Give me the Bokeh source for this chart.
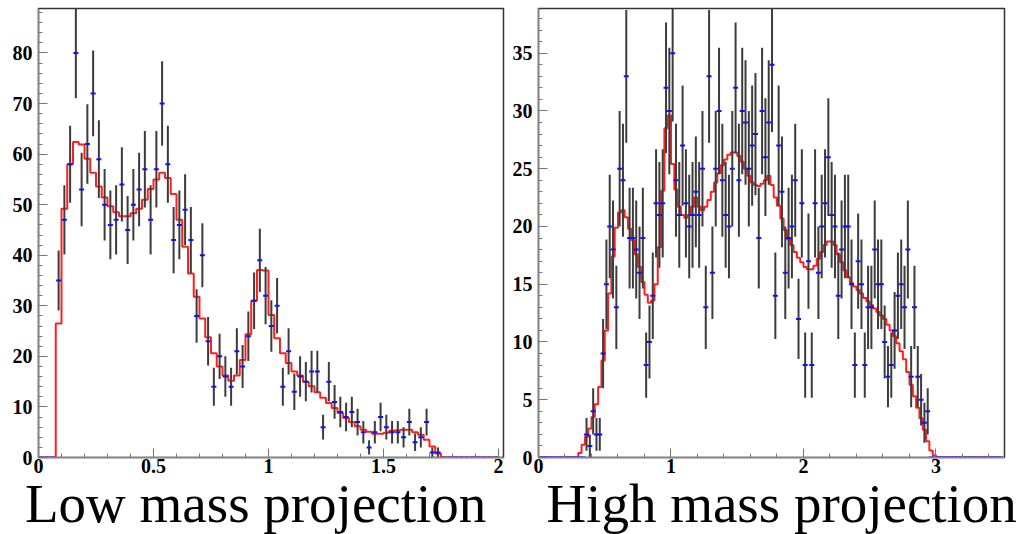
import numpy as np
from bokeh.plotting import figure
from bokeh.layouts import row, column
from bokeh.models import Range1d, SingleIntervalTicker, CustomJSTickFormatter
from bokeh.core.properties import value
from bokeh.embed import file_html
from bokeh.resources import INLINE

# ---------------- data ----------------
bin_width = 0.025

# Low mass projection: 80 bins from 0 to 2
low_counts = [0, 0, 0, 35, 47, 58, 80, 53, 62, 72,
              59, 50, 46, 47, 54, 45, 50, 53, 57, 47,
              57, 70, 58, 43, 46, 49, 43, 28, 40, 23,
              14, 20, 16, 14, 21, 18, 24, 31, 39, 32,
              26, 30, 14, 21, 13, 16, 15, 17, 17, 6,
              15, 11, 9, 8, 9, 7, 5, 2, 5, 8,
              6, 5, 5, 4, 7, 3, 4, 7, 1, 1,
              0, 0, 0, 0, 0, 0, 0, 0, 0, 0]
low_fit = [0, 0, 0, 26.5, 49.2, 58.0, 62.4, 61.9, 59.1, 56.3,
           53.6, 51.4, 49.7, 48.5, 47.7, 47.7, 48.3, 49.2, 51.0, 53.1,
           55.0, 56.3, 55.3, 52.1, 47.0, 41.7, 36.4, 31.8, 27.5, 23.8,
           20.6, 18.0, 16.2, 15.2, 16.2, 19.3, 24.4, 31.0, 37.1, 37.0,
           28.2, 23.6, 20.6, 18.7, 17.0, 16.2, 15.0, 14.1, 12.9, 11.8,
           10.8, 9.8, 8.8, 7.8, 7.0, 6.2, 5.5, 5.1, 4.7, 4.7,
           4.9, 5.3, 5.4, 5.5, 5.5, 5.0, 4.5, 3.5, 2.2, 0.8,
           0, 0, 0, 0, 0, 0, 0, 0, 0, 0]

# High mass projection: 140 bins from 0 to 3.5
high_counts = [0, 0, 0, 0, 0, 0, 0, 0, 0, 0,
               0, 0, 0, 0, 2, 1, 4, 2, 2, 9,
               15, 20, 18, 13, 25, 24, 33, 19, 19, 18,
               16, 19, 8, 10, 14, 22, 21, 22, 32, 30,
               35, 24, 21, 27, 22, 20, 21, 23, 21, 25,
               13, 33, 16, 25, 30, 24, 21, 20, 25, 32,
               24, 30, 29, 25, 27, 28, 19, 30, 26, 29,
               34, 14, 27, 23, 16, 19, 20, 24, 12, 22,
               8, 17, 8, 22, 16, 20, 22, 26, 21, 20,
               14, 18, 20, 20, 15, 8, 17, 15, 8, 13,
               13, 18, 15, 15, 10, 7, 8, 11, 14, 15,
               13, 18, 7, 13, 7, 5, 3, 4, 0, 0,
               0, 0, 0, 0, 0, 0, 0, 0, 0, 0,
               0, 0, 0, 0, 0, 0, 0, 0, 0, 0]
high_fit = [0, 0, 0, 0, 0, 0, 0, 0, 0, 0,
            0, 0, 0.4, 1.1, 1.8, 2.5, 3.5, 4.6, 6.1, 8.4,
            11.0, 14.2, 17.4, 19.9, 21.2, 21.4, 20.8, 19.8, 18.8, 17.6,
            16.5, 15.2, 14.1, 13.4, 13.6, 15.0, 18.2, 23.1, 28.5, 29.6,
            25.4, 23.2, 21.7, 21.0, 20.75, 21.0, 21.7, 22.5, 21.7, 21.4,
            21.7, 22.3, 23.0, 23.8, 24.6, 25.3, 25.8, 26.2, 26.4, 26.4,
            26.1, 25.6, 25.0, 24.4, 23.8, 23.6, 23.5, 23.7, 24.0, 24.4,
            23.6, 22.5, 21.8, 20.7, 19.7, 18.9, 18.4, 17.8, 17.3, 16.9,
            16.5, 16.3, 16.3, 16.6, 17.2, 17.8, 18.4, 18.7, 18.7, 18.4,
            17.6, 16.9, 16.2, 15.6, 15.1, 14.8, 14.5, 14.2, 13.8, 13.5,
            13.2, 12.9, 12.6, 12.3, 12.0, 11.5, 11.0, 10.5, 9.9, 9.2,
            8.5, 7.4, 6.3, 5.3, 4.3, 3.4, 2.4, 1.4, 0.6, 0.2,
            0, 0, 0, 0, 0, 0, 0, 0, 0, 0,
            0, 0, 0, 0, 0, 0, 0, 0, 0, 0]

panel_titles = ["Low mass  projection", "High mass  projection"]

TICK_FONT = "Liberation Serif"
PANEL_H = 481


def panel(counts, fit, width, border_left, border_right, x_end, y_end, x_major, y_major):
    counts = np.asarray(counts, dtype=float)
    fit = np.asarray(fit, dtype=float)
    n = len(counts)
    edges = np.arange(n + 1) * bin_width
    centers = (edges[:-1] + edges[1:]) / 2

    p = figure(width=width, height=PANEL_H, x_range=Range1d(0, x_end), y_range=Range1d(0, y_end),
               output_backend="svg", toolbar_location=None,
               min_border_left=border_left, min_border_right=border_right,
               min_border_top=8, min_border_bottom=PANEL_H - 457)
    p.grid.visible = False
    p.background_fill_color = "white"
    p.border_fill_color = "white"
    p.outline_line_color = "#333333"
    p.outline_line_width = 1.5

    for ax, major in ((p.xaxis[0], x_major), (p.yaxis[0], y_major)):
        ax.ticker = SingleIntervalTicker(interval=major, num_minor_ticks=5)
        ax.major_tick_in = 9
        ax.major_tick_out = 0
        ax.minor_tick_in = 4
        ax.minor_tick_out = 0
        ax.major_tick_line_color = "#777777"
        ax.minor_tick_line_color = "#777777"
        ax.axis_line_color = "#888888"
        ax.axis_line_width = 1.5
        ax.major_label_text_font = TICK_FONT
        ax.major_label_text_font_style = "bold"
        ax.major_label_text_font_size = "20px"
        ax.major_label_text_color = "black"
        ax.formatter = CustomJSTickFormatter(code="return String(Math.round(tick*100)/100);")
    p.xaxis[0].major_label_standoff = 1
    p.yaxis[0].major_label_standoff = 6

    # fit histogram (stairs)
    sx = np.repeat(edges, 2)[1:-1]
    sy = np.repeat(fit, 2)
    p.line(sx, sy, line_color="#ff1f1f", line_width=2)

    # data error bars
    mask = counts > 0
    err = np.sqrt(counts)
    p.segment(x0=centers[mask], y0=(counts - err)[mask], x1=centers[mask], y1=(counts + err)[mask],
              line_color="#3c3c3c", line_width=2)
    # data points
    p.scatter(centers, counts, marker="dash", size=5, line_color="#1010ff", line_width=2)
    return p


p1 = panel(low_counts, low_fit, 505, 38, 2, 2.022, 88.8, 0.5, 10)
p2 = panel(high_counts, high_fit, 513, 33, 14, 3.517, 38.87, 1, 5)

# caption strip below the two panels (coordinates in pixels of this strip)
cap_h = 534 - PANEL_H
cap = figure(width=1018, height=cap_h, x_range=Range1d(0, 1018), y_range=Range1d(0, cap_h),
             output_backend="svg", toolbar_location=None, min_border=0)
cap.axis.visible = False
cap.grid.visible = False
cap.outline_line_color = None
cap.text(x=[262, 788], y=[31, 31], text=panel_titles, text_align="center",
         text_baseline="alphabetic", text_font=value(TICK_FONT),
         text_font_size="55px", text_color="black")

layout = column(row(p1, p2, spacing=0), cap, spacing=0)
open("out.html", "w").write(file_html(layout, INLINE))
